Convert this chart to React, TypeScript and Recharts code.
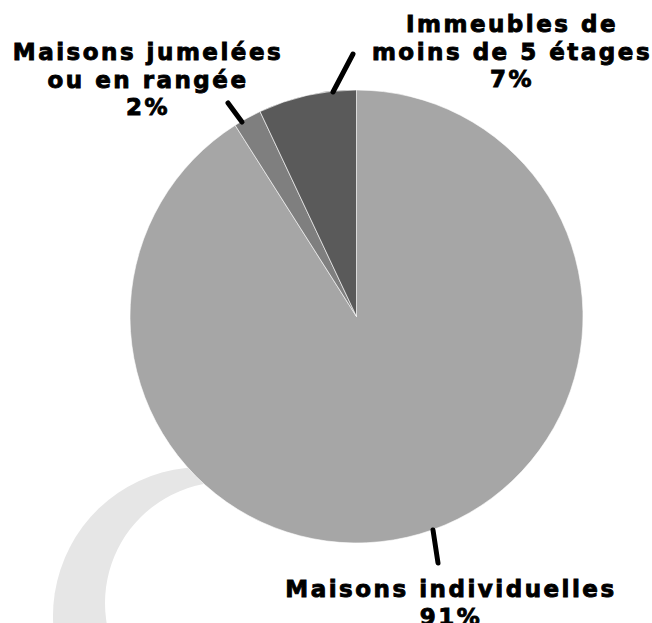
import React from 'react';
import { PieChart, Pie, Cell } from 'recharts';

// share of dwellings by building type (%)
const categories = ['Maisons individuelles', 'Maisons jumelées ou en rangée', 'Immeubles de moins de 5 étages'];
const shares = [91, 2, 7];
const labelRows = [['Maisons individuelles'], ['Maisons jumelées', 'ou en rangée'], ['Immeubles de', 'moins de 5 étages']];
const colors = ['#a6a6a6', '#7f7f7f', '#5a5a5a'];

const data = categories.map((name, i) => ({ name, value: shares[i] }));

// hand placed label anchors + leader lines
const labelLayout = [
    { x: 451, y: 597, line: [433, 530, 438, 563] },
    { x: 148, y: 60, line: [242, 122, 228, 103] },
    { x: 512, y: 32, line: [333, 92, 353, 54] },
];

const font = '"DejaVu Sans", sans-serif';

const renderLabel = (props: any) => {
    const i = props.index;
    const l = labelLayout[i];
    const rows = [...labelRows[i], `${shares[i]}%`];
    return (
        <g key={`lbl-${i}`}>
            <line x1={l.line[0]} y1={l.line[1]} x2={l.line[2]} y2={l.line[3]} stroke="#000" strokeWidth={5} strokeLinecap="round" />
            <text
                x={l.x}
                y={l.y}
                textAnchor="middle"
                fontFamily={font}
                fontWeight={700}
                fontSize={23}
                letterSpacing={2.5}
                fill="#000"
                stroke="#000"
                strokeWidth={0.9}
            >
                {rows.map((r, k) => (
                    <tspan key={k} x={l.x} y={l.y + k * 27.5}>{r}</tspan>
                ))}
            </text>
        </g>
    );
};

const noMargin = { top: 0, right: 0, bottom: 0, left: 0 };

export default function App() {
    return (
        <div style={{ position: 'absolute', left: 0, top: 0, background: '#fff' }}>
            <PieChart width={652} height={623} margin={noMargin}>
                {/* decorative crescent behind the pie */}
                <Pie data={[{ value: 1 }]} dataKey="value" cx={202} cy={616} outerRadius={149} startAngle={40} endAngle={190} fill="#e6e6e6" stroke="none" isAnimationActive={false} />
                <Pie data={[{ value: 1 }]} dataKey="value" cx={226} cy={603} outerRadius={121} startAngle={0} endAngle={360} fill="#ffffff" stroke="none" isAnimationActive={false} />
                <Pie
                    data={data}
                    dataKey="value"
                    cx={356.5}
                    cy={316.5}
                    outerRadius={226.5}
                    startAngle={90}
                    endAngle={-270}
                    stroke="#ffffff"
                    strokeWidth={0.6}
                    label={renderLabel}
                    labelLine={false}
                    isAnimationActive={false}
                >
                    {data.map((d, i) => (
                        <Cell key={d.name} fill={colors[i]} />
                    ))}
                </Pie>
            </PieChart>
        </div>
    );
}
